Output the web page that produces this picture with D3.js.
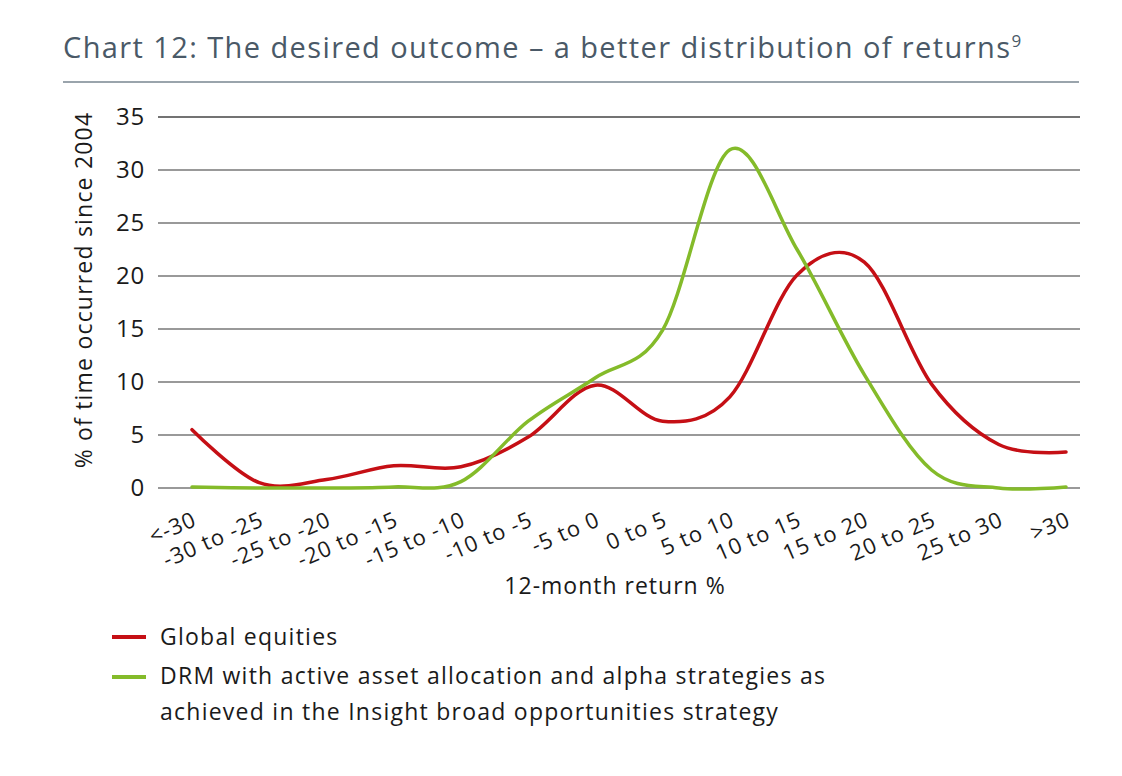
<!DOCTYPE html>
<html>
<head>
<meta charset="utf-8">
<script src="https://cdn.jsdelivr.net/npm/d3@7"></script>
<style>
  body { margin: 0; background: #fff; }
  svg text { font-family: "Open Sans", "Noto Sans", sans-serif; }
</style>
</head>
<body>
<script>
// chart data
var categories = ["<-30", "-30 to -25", "-25 to -20", "-20 to -15", "-15 to -10", "-10 to -5", "-5 to 0",
                  "0 to 5", "5 to 10", "10 to 15", "15 to 20", "20 to 25", "25 to 30", ">30"];
var globalEquities = [5.5, 0.5, 0.8, 2.1, 2.0, 4.8, 9.7, 6.3, 8.6, 20.1, 21.3, 9.8, 4.1, 3.4];
var drmStrategy = [0.1, 0.0, 0.0, 0.1, 0.6, 6.3, 10.4, 14.9, 31.9, 22.5, 10.7, 1.7, 0.0, 0.1];
var yTicks = [0, 5, 10, 15, 20, 25, 30, 35];
var seriesNames = ["Global equities", "DRM with active asset allocation and alpha strategies as",
                   "achieved in the Insight broad opportunities strategy"];

var svg = d3.select("body")
    .append("svg")
    .attr("width", 1122)
    .attr("height", 776);

// title
svg.append("text")
    .attr("x", 63)
    .attr("y", 58)
    .attr("font-size", "29px")
    .attr("letter-spacing", "1.4px")
    .attr("fill", "#4a5967")
    .text("Chart 12: The desired outcome \u2013 a better distribution of returns")
    .append("tspan")
    .attr("font-size", "17px")
    .attr("dy", -11)
    .text("9");

svg.append("line")
    .attr("x1", 63)
    .attr("x2", 1079)
    .attr("y1", 82)
    .attr("y2", 82)
    .attr("stroke", "#9aa4ac")
    .attr("stroke-width", 2);

var x = d3.scalePoint()
    .domain(categories)
    .range([192, 1066]);

var y = d3.scaleLinear()
    .domain([0, 35])
    .range([488, 117]);

// gridlines
svg.selectAll(".grid")
    .data(yTicks)
    .enter()
    .append("line")
    .attr("class", "grid")
    .attr("x1", 158)
    .attr("x2", 1080)
    .attr("y1", function(d) { return y(d); })
    .attr("y2", function(d) { return y(d); })
    .attr("stroke", function(d) { return d == 35 ? "#444" : "#777"; })
    .attr("stroke-width", 1.5);

// y tick labels
svg.selectAll(".ylab")
    .data(yTicks)
    .enter()
    .append("text")
    .attr("class", "ylab")
    .attr("x", 145)
    .attr("y", function(d) { return y(d) + 8; })
    .attr("text-anchor", "end")
    .attr("font-size", "24px")
    .attr("letter-spacing", "0.8px")
    .attr("fill", "#1a1a1a")
    .text(function(d) { return d; });

// y axis title
svg.append("text")
    .attr("transform", "translate(92,290) rotate(-90)")
    .attr("text-anchor", "middle")
    .attr("font-size", "23px")
    .attr("letter-spacing", "1.2px")
    .attr("fill", "#1a1a1a")
    .text("% of time occurred since 2004");

// x tick labels
svg.selectAll(".xlab")
    .data(categories)
    .enter()
    .append("text")
    .attr("class", "xlab")
    .attr("transform", function(d) { return "translate(" + (x(d) + 6) + ",525) rotate(-23.5)"; })
    .attr("text-anchor", "end")
    .attr("font-size", "22px")
    .attr("letter-spacing", "1px")
    .attr("fill", "#1a1a1a")
    .text(function(d) { return d; });

svg.append("text")
    .attr("x", 615)
    .attr("y", 594)
    .attr("text-anchor", "middle")
    .attr("font-size", "23px")
    .attr("letter-spacing", "1px")
    .attr("fill", "#1a1a1a")
    .text("12-month return %");

// lines
var line = d3.line()
    .x(function(d, i) { return x(categories[i]); })
    .y(function(d) { return y(d); })
    .curve(d3.curveCardinal.tension(0));

svg.append("path")
    .datum(globalEquities)
    .attr("d", line)
    .attr("fill", "none")
    .attr("stroke", "#c50f15")
    .attr("stroke-width", 3.5)
    .attr("stroke-linecap", "round");

svg.append("path")
    .datum(drmStrategy)
    .attr("d", line)
    .attr("fill", "none")
    .attr("stroke", "#84bb2a")
    .attr("stroke-width", 3.5)
    .attr("stroke-linecap", "round");

// legend
var legendColors = ["#c50f15", "#84bb2a"];
svg.selectAll(".legline")
    .data(legendColors)
    .enter()
    .append("line")
    .attr("class", "legline")
    .attr("x1", 112)
    .attr("x2", 146)
    .attr("y1", function(d, i) { return 637 + i * 40; })
    .attr("y2", function(d, i) { return 637 + i * 40; })
    .attr("stroke", function(d) { return d; })
    .attr("stroke-width", 4);

svg.selectAll(".legtext")
    .data(seriesNames)
    .enter()
    .append("text")
    .attr("class", "legtext")
    .attr("x", 160)
    .attr("y", function(d, i) { return [645, 684, 720][i]; })
    .attr("font-size", "23px")
    .attr("letter-spacing", "1.25px")
    .attr("fill", "#1a1a1a")
    .text(function(d) { return d; });
</script>
</body>
</html>
